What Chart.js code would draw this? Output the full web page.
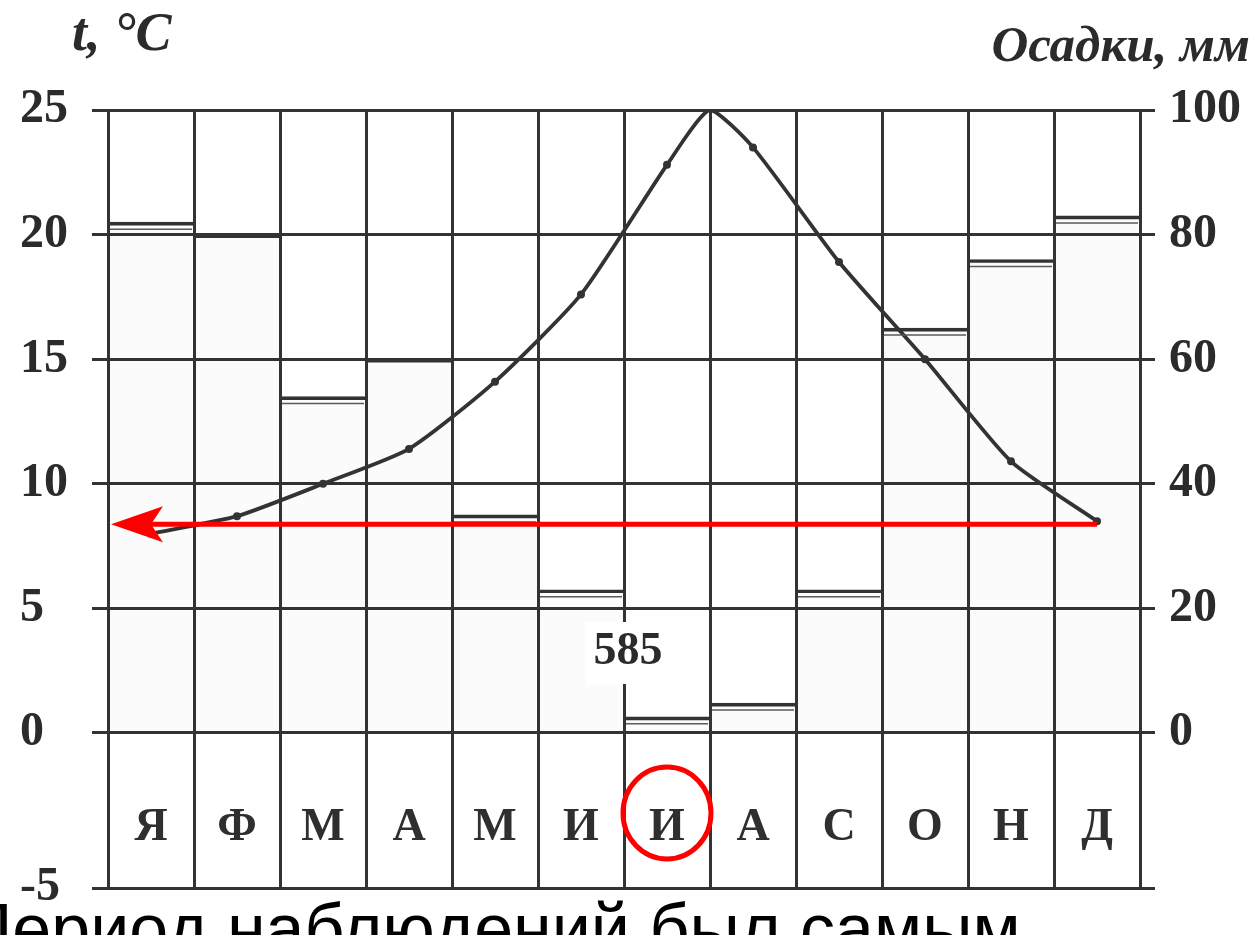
<!DOCTYPE html>
<html>
<head>
<meta charset="utf-8">
<script src="https://cdn.jsdelivr.net/npm/chart.js@4/dist/chart.umd.min.js"></script>
<style>
  html, body { margin: 0; padding: 0; background: #ffffff; }
  #wrap { position: relative; width: 1257px; height: 935px; overflow: hidden; }
</style>
</head>
<body>
<div id="wrap"><canvas id="c"></canvas></div>
<script>
// ---------- data ----------
const months = ['Я', 'Ф', 'М', 'А', 'М', 'И', 'И', 'А', 'С', 'О', 'Н', 'Д'];
// mean monthly temperature, °C (dots at column centres)
const temperature = [8.0, 8.7, 10.0, 11.4, 14.1, 17.6, 22.8, 23.5, 18.9, 15.0, 10.9, 8.5];
// the drawn curve peaks between July and August
const tempPeakPos = 7;      // month boundary (Jul | Aug)
const tempPeakValue = 25;
// monthly precipitation, mm
const precipitation = [82, 80, 54, 60, 35, 23, 2.6, 4.8, 23, 65, 76, 83];
const annualTotal = '585';
// axis ticks
const tempTicks = [0, 5, 10, 15, 20, 25];
const tempBottomLabel = '-5';
const precTicks = [0, 20, 40, 60, 80, 100];
const leftTitle = 't, °C';
const rightTitle = 'Осадки, мм';
const bottomText = 'Период наблюдений был самым';

// ---------- scale geometry (the printed chart stretches the band below 0) ----------
const tMax = 25, tMin = -6.22;
const pMax = 100, pMin = tMin * 4;

const linePts = [];
temperature.forEach((v, i) => {
  linePts.push({ x: i + 0.5, y: v });
  if (i + 1 === tempPeakPos) linePts.push({ x: tempPeakPos, y: tempPeakValue });
});
const pointRadii = linePts.map(p => (p.x === tempPeakPos ? 0 : 4));

const INK = '#333333';
const serif = '"Liberation Serif", "DejaVu Serif", serif';

// second (inner) rule under every bar top, as in the printed diagram
const barRules = {
  id: 'barRules',
  afterDatasetsDraw(chart) {
    const meta = chart.getDatasetMeta(1);
    const ctx = chart.ctx;
    ctx.save();
    ctx.strokeStyle = '#5a5a5a';
    ctx.lineWidth = 1.5;
    meta.data.forEach((bar, i) => {
      if (precTicks.includes(precipitation[i])) return; // top merges with a grid line
      const p = bar.getProps(['x', 'y', 'width', 'base'], true);
      if (p.base - p.y < 12) return;
      ctx.beginPath();
      ctx.moveTo(p.x - p.width / 2 + 2, p.y + 7);
      ctx.lineTo(p.x + p.width / 2 - 2, p.y + 7);
      ctx.stroke();
    });
    ctx.restore();
  }
};

const annot = {
  id: 'annot',
  afterDraw(chart) {
    const ctx = chart.ctx;
    const xs = chart.scales.x, yL = chart.scales.yL, xT = chart.scales.xT;
    const area = chart.chartArea;
    ctx.save();

    // month letters inside the band below 0 °C
    ctx.fillStyle = '#2f2f2f';
    ctx.font = 'bold 46px ' + serif;
    ctx.textAlign = 'center';
    ctx.textBaseline = 'alphabetic';
    months.forEach((m, i) => ctx.fillText(m, xs.getPixelForValue(i), 840));

    // annual total with white backing
    const cx = (xs.getPixelForValue(5) + xs.getPixelForValue(6)) / 2 + 4;
    const cy = yL.getPixelForValue(3.25);
    ctx.fillStyle = '#ffffff';
    ctx.fillRect(cx - 42, cy - 30, 84, 62);
    ctx.fillStyle = '#2b2b2b';
    ctx.font = 'bold 46px ' + serif;
    ctx.textBaseline = 'middle';
    ctx.fillText(annualTotal, cx, cy);

    // axis titles
    ctx.font = 'italic bold 54px ' + serif;
    ctx.textAlign = 'left';
    ctx.textBaseline = 'alphabetic';
    ctx.fillText(leftTitle, 72, 50);
    ctx.font = 'italic bold 51px ' + serif;
    ctx.textAlign = 'right';
    ctx.fillText(rightTitle, 1250, 61);

    // red arrow from December point to the temperature axis
    const ay = yL.getPixelForValue(temperature[11]) + 3;
    const ax0 = xT.getPixelForValue(11.5);
    const tip = area.left + 3;
    ctx.strokeStyle = '#ff0000';
    ctx.fillStyle = '#ff0000';
    ctx.lineWidth = 5;
    ctx.beginPath();
    ctx.moveTo(ax0, ay);
    ctx.lineTo(tip + 40, ay);
    ctx.stroke();
    ctx.beginPath();
    ctx.moveTo(tip, ay);
    ctx.lineTo(tip + 52, ay - 18);
    ctx.lineTo(tip + 40, ay);
    ctx.lineTo(tip + 52, ay + 18);
    ctx.closePath();
    ctx.fill();

    // red circle round the July letter
    ctx.lineWidth = 5;
    ctx.beginPath();
    ctx.ellipse(xs.getPixelForValue(6), 813, 44, 46, 0, 0, Math.PI * 2);
    ctx.stroke();

    // clipped caption text at the bottom
    ctx.fillStyle = '#000000';
    ctx.font = '70px "Liberation Sans", Arial, sans-serif';
    ctx.textAlign = 'left';
    ctx.textBaseline = 'alphabetic';
    ctx.fillText(bottomText, -38, 953);
    ctx.restore();
  }
};

new Chart(document.getElementById('c'), {
  data: {
    labels: months,
    datasets: [
      {
        type: 'line',
        data: linePts,
        xAxisID: 'xT',
        yAxisID: 'yL',
        borderColor: INK,
        borderWidth: 3.8,
        pointRadius: pointRadii,
        pointBackgroundColor: INK,
        pointBorderWidth: 0,
        tension: 0.2,
        fill: false,
        order: 0
      },
      {
        type: 'bar',
        data: precipitation,
        xAxisID: 'x',
        yAxisID: 'yR',
        grouped: false,
        backgroundColor: 'rgba(0,0,0,0.015)',
        borderColor: INK,
        borderWidth: { top: 3, right: 0, bottom: 0, left: 0 },
        borderSkipped: false,
        barPercentage: 1,
        categoryPercentage: 1,
        order: 1
      }
    ]
  },
  options: {
    responsive: true,
    maintainAspectRatio: false,
    animation: false,
    events: [],
    layout: { padding: { left: 20, top: 110, right: 0, bottom: 0 } },
    plugins: { legend: { display: false }, tooltip: { enabled: false } },
    scales: {
      x: {
        type: 'category',
        position: 'bottom',
        offset: true,
        grid: { offset: true, color: INK, lineWidth: 3, drawTicks: false },
        border: { display: false },
        ticks: { display: false },
        afterFit(s) { s.height = 47; }
      },
      xT: {
        type: 'linear', display: false, min: 0, max: 12
      },
      yL: {
        type: 'linear',
        position: 'left',
        min: tMin, max: tMax,
        grid: { color: INK, lineWidth: 3, tickLength: 16 },
        border: { display: false },
        afterBuildTicks(s) { s.ticks = [tMin].concat(tempTicks).map(v => ({ value: v })); },
        ticks: {
          crossAlign: 'far',
          color: '#2b2b2b',
          font: { family: serif, size: 48, weight: 'bold' },
          callback: (v) => (v === tMin ? tempBottomLabel : String(v))
        },
        afterFit(s) { s.width = 88; }
      },
      yR: {
        type: 'linear',
        position: 'right',
        min: pMin, max: pMax,
        grid: { drawOnChartArea: false, color: INK, lineWidth: 3, tickLength: 15 },
        border: { display: true, color: INK, width: 3 },
        afterBuildTicks(s) { s.ticks = [pMin].concat(precTicks).map(v => ({ value: v })); },
        ticks: {
          padding: 14,
          color: '#2b2b2b',
          font: { family: serif, size: 48, weight: 'bold' },
          callback: (v) => (v === pMin ? '' : String(v))
        },
        afterFit(s) { s.width = 117; }
      }
    }
  },
  plugins: [barRules, annot]
});
</script>
</body>
</html>
